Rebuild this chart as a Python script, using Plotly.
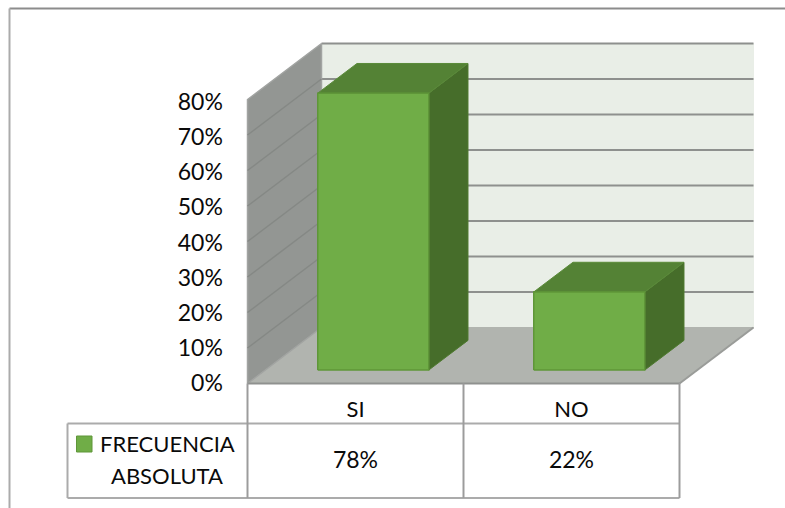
import plotly.graph_objects as go

categories = ["SI", "NO"]
series_name = ["FRECUENCIA", "ABSOLUTA"]
values = [78, 22]
y_ticks = [0, 10, 20, 30, 40, 50, 60, 70, 80]

WIDTH, HEIGHT = 785, 508
FONT = "Lato"
NUM_SIZE = 23
WORD_SIZE = 22
TEXT = "#0A0A0A"

# Pixel frame of the front edge of the box: one category is 216 px wide, 10% is 35.5 px tall.
ORIGIN_X, ORIGIN_Y = 247.5, 383.5
CAT_PX, TEN_PCT_PX = 216.0, 35.5
# The tick labels sit on a slightly tighter scale than the wall they annotate.
LABEL_ORIGIN_Y, LABEL_TEN_PCT_PX = 383.0, 35.125
# Full depth of the box in axis units (74 px right, 56 px up).
DEPTH_X = 74 / CAT_PX
DEPTH_Y = 56 / TEN_PCT_PX * 10

x_range = [(0 - ORIGIN_X) / CAT_PX, (WIDTH - ORIGIN_X) / CAT_PX]
y_range = [(ORIGIN_Y - HEIGHT) / TEN_PCT_PX * 10, ORIGIN_Y / TEN_PCT_PX * 10]
label_range = [(LABEL_ORIGIN_Y - HEIGHT) / LABEL_TEN_PCT_PX * 10, LABEL_ORIGIN_Y / LABEL_TEN_PCT_PX * 10]
Y_TOP = max(y_ticks)
N = len(categories)


def project(x, y, depth):
    """Oblique projection: depth 0 is the front of the box, 1 the back wall."""
    return x + depth * DEPTH_X, y + depth * DEPTH_Y


def poly(corners, fill, line=None, width=1):
    pts = [project(*c) for c in corners]
    pts.append(pts[0])
    return go.Scatter(
        x=[p[0] for p in pts], y=[p[1] for p in pts],
        mode="lines", fill="toself", fillcolor=fill,
        line=dict(color=line or fill, width=width),
        hoverinfo="skip", showlegend=False,
    )


def segment(a, b, color, width=2):
    pa, pb = project(*a), project(*b)
    return go.Scatter(
        x=[pa[0], pb[0]], y=[pa[1], pb[1]], mode="lines",
        line=dict(color=color, width=width),
        hoverinfo="skip", showlegend=False,
    )


fig = go.Figure()

# Back wall and its gridlines
fig.add_trace(poly([(0, 0, 1), (N, 0, 1), (N, Y_TOP, 1), (0, Y_TOP, 1)], "#E9EEE7"))
for t in y_ticks[1:]:
    fig.add_trace(segment((0, t, 1), (N, t, 1), "#8E908E"))

# Floor
fig.add_trace(poly([(0, 0, 0), (N, 0, 0), (N, 0, 1), (0, 0, 1)], "#B1B4AF"))
fig.add_trace(segment((N, 0, 0), (N, 0, 1), "#9A9C99"))

# Left wall with the gridlines running front to back
fig.add_trace(poly([(0, 0, 0), (0, Y_TOP, 0), (0, Y_TOP, 1), (0, 0, 1)], "#939693", "#A2A4A2", 1.5))
for t in y_ticks[1:-1]:
    fig.add_trace(segment((0, t, 0), (0, t, 1), "#858885", 1.5))

# Bars: right side, top, front
BAR_W = 0.514
Z_FRONT, Z_BACK = 0.24, 0.77
for i, v in enumerate(values):
    x0 = i + 0.5 - BAR_W / 2
    x1 = i + 0.5 + BAR_W / 2
    fig.add_trace(poly([(x1, 0, Z_FRONT), (x1, 0, Z_BACK), (x1, v, Z_BACK), (x1, v, Z_FRONT)], "#466D2A", "#4F7A30"))
    fig.add_trace(poly([(x0, v, Z_FRONT), (x1, v, Z_FRONT), (x1, v, Z_BACK), (x0, v, Z_BACK)], "#548235", "#5A8A39"))
    fig.add_trace(poly([(x0, 0, Z_FRONT), (x1, 0, Z_FRONT), (x1, v, Z_FRONT), (x0, v, Z_FRONT)], "#70AD47", "#5F9639", 1.5))

# Front edge of the floor
fig.add_trace(segment((0, 0, 0), (N, 0, 0), "#8F918F"))


def px_x(px):
    return px / WIDTH


def px_y(py):
    return 1 - py / HEIGHT


def rule(x0, y0, x1, y1, color="#ABABAB", width=2):
    fig.add_shape(type="line", xref="paper", yref="paper",
                  x0=px_x(x0), y0=px_y(y0), x1=px_x(x1), y1=px_y(y1),
                  line=dict(color=color, width=width))


# Chart frame: only the top and left edges fall inside the page
rule(9.5, 8.5, WIDTH, 8.5, "#8C8C8C")
rule(9.5, 8.5, 9.5, HEIGHT, "#ABABAB")

# Data table grid
TABLE_LEFT, ROW_1, ROW_2 = 67.5, 423.5, 498
col_px = [ORIGIN_X + k * CAT_PX for k in range(N + 1)]
rule(TABLE_LEFT, ROW_1, col_px[-1], ROW_1)
rule(TABLE_LEFT, ROW_2, col_px[-1], ROW_2)
rule(TABLE_LEFT, ROW_1, TABLE_LEFT, ROW_2)
for k, c in enumerate(col_px):
    rule(c, ORIGIN_Y, c, ROW_2, "#9C9C9C")

# Legend key and series name in the first table column
fig.add_shape(type="rect", xref="paper", yref="paper",
              x0=px_x(76.5), x1=px_x(92), y0=px_y(452), y1=px_y(436),
              fillcolor="#70AD47", line=dict(color="#5F9639", width=1))
for label, cx, cy in zip(series_name, (167, 166.5), (443, 475)):
    fig.add_annotation(text=label, xref="paper", yref="paper",
                       x=px_x(cx), y=px_y(cy), xanchor="center", yanchor="middle",
                       showarrow=False, font=dict(family=FONT, size=WORD_SIZE, color=TEXT))

# Value row of the table
fig.add_trace(go.Scatter(
    x=[i + 0.5 for i in range(N)],
    y=[(ORIGIN_Y - 462) / TEN_PCT_PX * 10] * N,
    mode="text", text=[f"{v}%" for v in values],
    textposition="middle center",
    textfont=dict(family=FONT, size=NUM_SIZE, color=TEXT),
    hoverinfo="skip", showlegend=False,
))

# Invisible trace that keeps the tick label axis on the page
fig.add_trace(go.Scatter(
    x=[0, N], y=[0, Y_TOP], yaxis="y2", mode="markers",
    marker=dict(opacity=0), hoverinfo="skip", showlegend=False,
))

fig.update_layout(
    width=WIDTH, height=HEIGHT,
    margin=dict(l=0, r=0, t=0, b=0),
    paper_bgcolor="#FFFFFF", plot_bgcolor="#FFFFFF",
    showlegend=False,
    font=dict(family=FONT, size=NUM_SIZE, color=TEXT),
    xaxis=dict(
        range=x_range, domain=[0, 1], anchor="free",
        position=1 - ORIGIN_Y / HEIGHT,
        tickmode="array", tickvals=[i + 0.5 for i in range(N)], ticktext=categories,
        ticks="outside", ticklen=6, tickcolor="rgba(0,0,0,0)",
        showgrid=False, zeroline=False, showline=False,
        tickfont=dict(family=FONT, size=WORD_SIZE, color=TEXT),
    ),
    yaxis=dict(
        range=y_range, domain=[0, 1], anchor="x",
        showticklabels=False, ticks="",
        showgrid=False, zeroline=False, showline=False,
    ),
    yaxis2=dict(
        range=label_range, domain=[0, 1], anchor="free", overlaying="y",
        position=ORIGIN_X / WIDTH,
        tickmode="array", tickvals=y_ticks, ticktext=[f"{t}%" for t in y_ticks],
        ticks="outside", ticklen=20, tickcolor="rgba(0,0,0,0)",
        showgrid=False, zeroline=False, showline=False,
        tickfont=dict(family=FONT, size=NUM_SIZE, color=TEXT),
    ),
)

fig.write_html("out.html", config=dict(displayModeBar=False))
